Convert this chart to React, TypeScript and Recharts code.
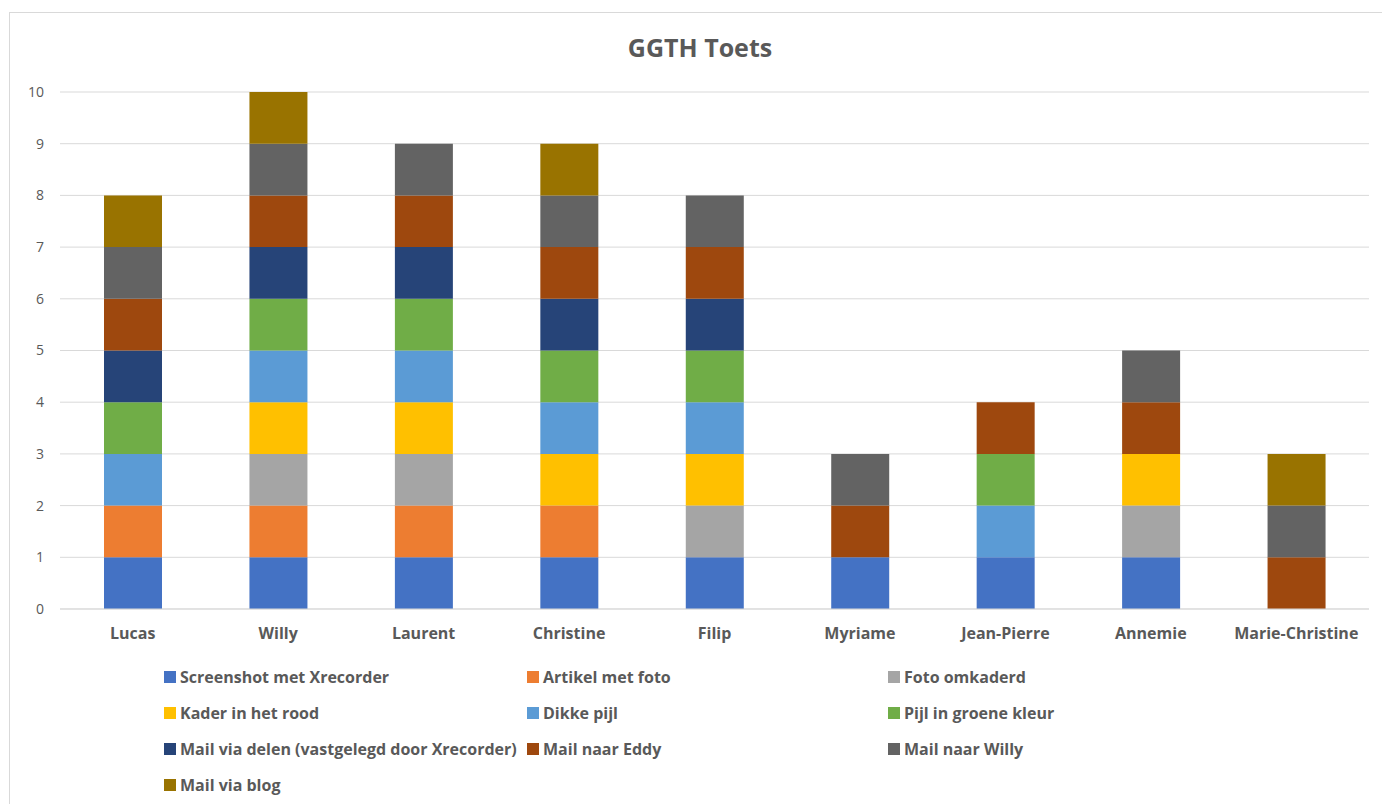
import React from "react";
import { BarChart, Bar, XAxis, YAxis, CartesianGrid } from "recharts";

const categories = [
  "Lucas",
  "Willy",
  "Laurent",
  "Christine",
  "Filip",
  "Myriame",
  "Jean-Pierre",
  "Annemie",
  "Marie-Christine",
];

const seriesNames = [
  "Screenshot met Xrecorder",
  "Artikel met foto",
  "Foto omkaderd",
  "Kader in het rood",
  "Dikke pijl",
  "Pijl in groene kleur",
  "Mail via delen (vastgelegd door Xrecorder)",
  "Mail naar Eddy",
  "Mail naar Willy",
  "Mail via blog",
];

const colors = [
  "#4472C4",
  "#ED7D31",
  "#A5A5A5",
  "#FFC000",
  "#5B9BD5",
  "#70AD47",
  "#264478",
  "#9E480E",
  "#636363",
  "#997300",
];

// one array per series, one value per category
const screenshot = [1, 1, 1, 1, 1, 1, 1, 1, 0];
const artikel = [1, 1, 1, 1, 0, 0, 0, 0, 0];
const foto = [0, 1, 1, 0, 1, 0, 0, 1, 0];
const kader = [0, 1, 1, 1, 1, 0, 0, 1, 0];
const dikkePijl = [1, 1, 1, 1, 1, 0, 1, 0, 0];
const pijlGroen = [1, 1, 1, 1, 1, 0, 1, 0, 0];
const mailDelen = [1, 1, 1, 1, 1, 0, 0, 0, 0];
const mailEddy = [1, 1, 1, 1, 1, 1, 1, 1, 1];
const mailWilly = [1, 1, 1, 1, 1, 1, 0, 1, 1];
const mailBlog = [1, 1, 0, 1, 0, 0, 0, 0, 1];

const seriesValues = [
  screenshot,
  artikel,
  foto,
  kader,
  dikkePijl,
  pijlGroen,
  mailDelen,
  mailEddy,
  mailWilly,
  mailBlog,
];

const yTicks = [0, 1, 2, 3, 4, 5, 6, 7, 8, 9, 10];

const data = categories.map((name, i) => {
  const row: Record<string, string | number> = { name };
  seriesValues.forEach((vals, s) => {
    row["s" + s] = vals[i];
  });
  return row;
});

const FONT = "'Open Sans', Lato, sans-serif";
const TEXT = "#595959";

export default function App() {
  return (
    <div
      style={{
        position: "absolute",
        left: 0,
        top: 0,
        width: 1382,
        height: 804,
        overflow: "hidden",
        background: "#fff",
        fontFamily: FONT,
      }}
    >
      <div
        style={{
          position: "absolute",
          left: 9,
          top: 12,
          width: 1390,
          height: 820,
          border: "1px solid #D9D9D9",
        }}
      />
      <div
        style={{
          position: "absolute",
          left: 0,
          top: 30,
          width: 1400,
          textAlign: "center",
          fontSize: 25,
          fontWeight: 700,
          color: TEXT,
        }}
      >
        GGTH Toets
      </div>

      <div style={{ position: "absolute", left: 0, top: 0 }}>
        <BarChart
          width={1382}
          height={804}
          data={data}
          margin={{ top: 92, right: 13, bottom: 155, left: 0 }}
        >
          <CartesianGrid vertical={false} stroke="#D9D9D9" />
          <XAxis
            dataKey="name"
            height={40}
            tickLine={false}
            tickSize={0}
            tickMargin={19}
            axisLine={{ stroke: "#D9D9D9" }}
            tick={{ fill: TEXT, fontSize: 16, fontWeight: 700, fontFamily: FONT }}
            interval={0}
          />
          <YAxis
            width={60}
            domain={[0, 10]}
            ticks={yTicks}
            axisLine={false}
            tickLine={false}
            tickSize={0}
            tickMargin={16}
            tick={{ fill: TEXT, fontSize: 14, fontFamily: FONT }}
          />
          {seriesNames.map((n, s) => (
            <Bar
              key={n}
              dataKey={"s" + s}
              name={n}
              stackId="a"
              fill={colors[s]}
              barSize={58}
              isAnimationActive={false}
            />
          ))}
        </BarChart>
      </div>

      {seriesNames.map((n, s) => {
        const col = s % 3;
        const row = Math.floor(s / 3);
        const x = [164, 527, 888][col];
        const y = 677 + row * 36;
        return (
          <div
            key={n}
            style={{
              position: "absolute",
              left: x,
              top: y - 11,
              height: 22,
              display: "flex",
              alignItems: "center",
              whiteSpace: "nowrap",
              fontSize: 16,
              fontWeight: 700,
              color: TEXT,
            }}
          >
            <span
              style={{
                display: "inline-block",
                width: 12,
                height: 12,
                background: colors[s],
                marginRight: 4,
              }}
            />
            {n}
          </div>
        );
      })}
    </div>
  );
}
